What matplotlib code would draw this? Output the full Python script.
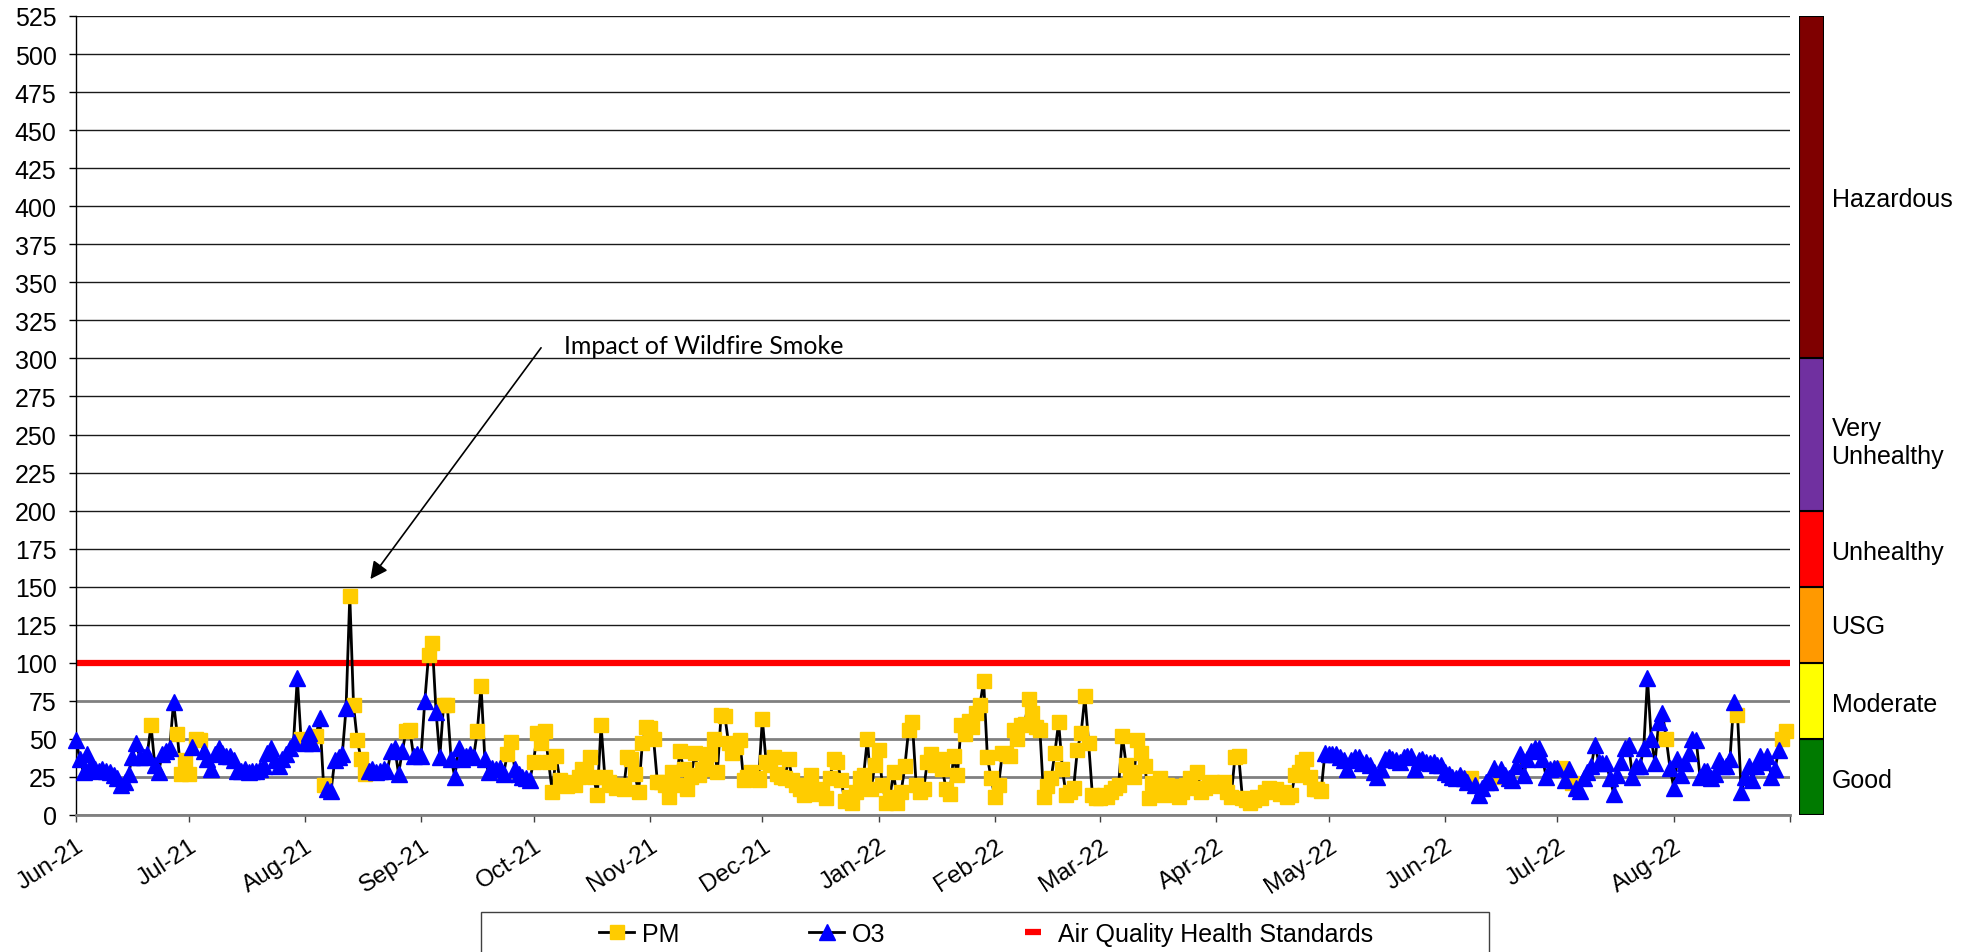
import matplotlib
matplotlib.use('Agg')
import matplotlib.pyplot as plt
from matplotlib.lines import Line2D
from matplotlib.patches import Rectangle
import numpy as np
import pandas as pd

plt.rcParams['font.family'] = ['Liberation Sans', 'DejaVu Sans']

# daily AQI, month by month; flag P = PM dominant, O = ozone dominant
jun21 = [49,37,28,40,33,30,29,30,29,28,26,24,20,22,27,38,47,38,38,40,59,33,28,40,42,44,74,53,27,36]
jun21_f = "O"*20 + "P" + "O"*6 + "PPP"
jul21 = [27,45,50,49,42,37,30,40,44,41,39,39,36,29,29,30,28,29,29,30,32,41,44,36,32,37,40,44,48,90,50]
jul21_f = "POPP" + "O"*26 + "P"
aug21 = [47,54,47,52,64,20,17,16,36,38,40,70,144,72,49,37,27,29,30,28,29,30,29,42,44,27,42,55,56,39,40]
aug21_f = "OOOPOPOOOOOOPPPPPOOOOOOOOOOPPOO"
sep21 = [39,75,105,113,68,38,72,72,37,25,44,37,39,40,38,55,85,37,28,31,30,31,27,40,48,30,27,25,24,23]
sep21_f = "OOPPOOPPOOOOOOOPPOOOOOOPPOOOOO"
oct21 = [35,54,47,55,35,15,39,23,20,19,22,20,25,30,28,38,25,13,59,25,22,20,18,20,17,38,37,27,15,47,58]
oct21_f = "P"*31
nov21 = [57,50,22,22,20,12,28,20,42,30,17,25,41,26,30,36,40,50,28,66,65,47,41,45,49,23,25,28,24,23]
nov21_f = "P"*30
dec21 = [63,35,33,38,27,25,24,37,23,20,17,13,20,26,14,17,15,11,24,37,35,23,9,12,8,15,24,26,50,17,33]
dec21_f = "P"*31
jan22 = [43,20,8,12,28,8,15,32,56,61,20,15,17,35,40,33,37,30,17,14,39,26,59,53,62,58,67,72,88,38,24]
jan22_f = "P"*31
feb22 = [12,20,41,40,39,56,50,59,60,76,67,58,56,12,19,24,41,61,30,13,15,18,43,54,78,47,13,11]
feb22_f = "P"*28
mar22 = [11,13,12,15,18,20,52,33,28,25,49,41,32,11,21,18,24,13,20,19,17,12,15,20,24,18,28,15,18,21,22]
mar22_f = "P"*31
apr22 = [21,19,22,15,12,38,39,11,10,8,10,12,11,15,18,16,17,14,15,12,13,26,28,35,37,25,17,17,16,41]
apr22_f = "P"*29 + "O"
may22 = [40,40,40,38,36,30,36,38,38,34,35,33,28,25,30,37,38,37,36,35,38,39,39,30,36,37,35,34,35,33,33]
may22_f = "O"*31
jun22 = [28,27,25,24,26,24,22,24,20,13,18,22,22,31,25,30,26,24,23,32,40,26,37,42,44,44,37,25,30,31]
jun22_f = "O"*7 + "P" + "O"*6 + "P" + "O"*15
jul22 = [31,31,23,30,21,18,16,24,28,32,46,35,34,34,24,14,26,35,44,46,25,32,32,44,90,50,34,61,67,50,31]
jul22_f = "OPOOP" + "O"*24 + "PO"
aug22 = [18,37,26,34,41,50,49,25,29,29,24,27,36,32,32,37,74,66,15,25,32,23,32,39,35,39,25,30,43,50,55]
aug22_f = "O"*17 + "P" + "O"*11 + "PP"

standard = 100

cat_names = ["Good", "Moderate", "USG", "Unhealthy", "Very\nUnhealthy", "Hazardous"]
cat_low = [0, 50, 100, 150, 200, 300]
cat_high = [50, 100, 150, 200, 300, 525]
cat_colors = ["#007A00", "#FFFF00", "#FF9900", "#FF0000", "#7030A0", "#7F0000"]
cat_label_y = [23, 73, 124, 173, 245, 405]

aqi = np.array(jun21 + jul21 + aug21 + sep21 + oct21 + nov21 + dec21 + jan22 +
               feb22 + mar22 + apr22 + may22 + jun22 + jul22 + aug22, dtype=float)
flags = (jun21_f + jul21_f + aug21_f + sep21_f + oct21_f + nov21_f + dec21_f + jan22_f +
         feb22_f + mar22_f + apr22_f + may22_f + jun22_f + jul22_f + aug22_f)
dates = pd.date_range('2021-06-01', periods=len(aqi), freq='D')
pm = np.array([f == 'P' for f in flags])
o3 = ~pm

fig = plt.figure(figsize=(19.7, 9.53), dpi=100)
ax = fig.add_axes([76/1970, 1-816/953, (1790-76)/1970, (816-17)/953])

ax.axhline(standard, color='#FF0000', lw=4.5, zorder=2)
ax.plot(dates, aqi, color='black', lw=2, zorder=3)
ax.plot(dates[pm], aqi[pm], ls='none', marker='s', ms=10.5, mfc='#FFCC00', mec='#FFCC00',
        zorder=4, clip_on=False)
ax.plot(dates[o3], aqi[o3], ls='none', marker='^', ms=11.5, mfc='#0000FF', mec='#0000FF',
        zorder=5, clip_on=False)

ax.set_ylim(0, 525)
ax.set_yticks(np.arange(0, 526, 25))
ax.set_xlim(pd.Timestamp('2021-06-01'), pd.Timestamp('2022-09-01'))
months = pd.date_range('2021-06-01', '2022-09-01', freq='MS')
ax.set_xticks(months)
ax.set_xticklabels([m.strftime('%b-%y') for m in months[:-1]] + [''],
                   rotation=33, ha='right', rotation_mode='anchor')

ax.grid(axis='y', zorder=0)
for val, gl in zip(ax.get_yticks(), ax.get_ygridlines()):
    if val > standard:
        gl.set_color('#1a1a1a')
        gl.set_linewidth(1)
    else:
        gl.set_color('#808080')
        gl.set_linewidth(2)

for s in ['top', 'right']:
    ax.spines[s].set_visible(False)
ax.spines['left'].set_color('black')
ax.spines['left'].set_linewidth(1)
ax.spines['bottom'].set_color('#808080')
ax.spines['bottom'].set_linewidth(2)
ax.tick_params(axis='y', labelsize=18, length=5, width=1, pad=9)
ax.tick_params(axis='x', labelsize=17.5, length=5, width=1, pad=9, color='#404040')

# wildfire note
ax.annotate('', xy=(pd.Timestamp('2021-08-18 12:00'), 155), xytext=(pd.Timestamp('2021-10-03'), 307),
            arrowprops=dict(arrowstyle='-|>', color='black', lw=1.2, mutation_scale=26,
                            shrinkA=0, shrinkB=0))
ax.text(pd.Timestamp('2021-10-09'), 301, 'Impact of Wildfire Smoke', fontsize=18,
        family=['Lato', 'DejaVu Sans'], va='bottom', ha='left')

# AQI category bar
cax = fig.add_axes([1799/1970, 1-816/953, 25/1970, (816-17)/953])
for name, lo, hi, c, ly in zip(cat_names, cat_low, cat_high, cat_colors, cat_label_y):
    cax.bar(0, hi - lo, bottom=lo, width=1, color=c, edgecolor='black', lw=1.5)
    cax.text(1.3, ly, name, transform=cax.get_yaxis_transform(),
             fontsize=18, va='center', ha='left', linespacing=1.2)
cax.set_xlim(-0.5, 0.5)
cax.set_ylim(0, 525)
cax.axis('off')

# legend
handles = [Line2D([], [], color='black', lw=2, marker='s', ms=10.5, mfc='#FFCC00', mec='#FFCC00'),
           Line2D([], [], color='black', lw=2, marker='^', ms=11.5, mfc='#0000FF', mec='#0000FF'),
           Line2D([], [], ls='none', marker='_', ms=12, mew=4.5, color='#FF0000')]
labels = ['PM', 'O3', 'Air Quality Health Standards']
fig.legend(handles, labels, loc='center', bbox_to_anchor=(986/1970, 1-935/953), ncol=3,
           frameon=False, fontsize=18, columnspacing=5.2, handlelength=1.4, handletextpad=0.3)
fig.patches.append(Rectangle((481/1970, -0.05), (1489-481)/1970, 0.05 + (953-913)/953,
                             transform=fig.transFigure, fill=False, edgecolor='#404040', lw=1))

fig.savefig('out.png', dpi=100)
